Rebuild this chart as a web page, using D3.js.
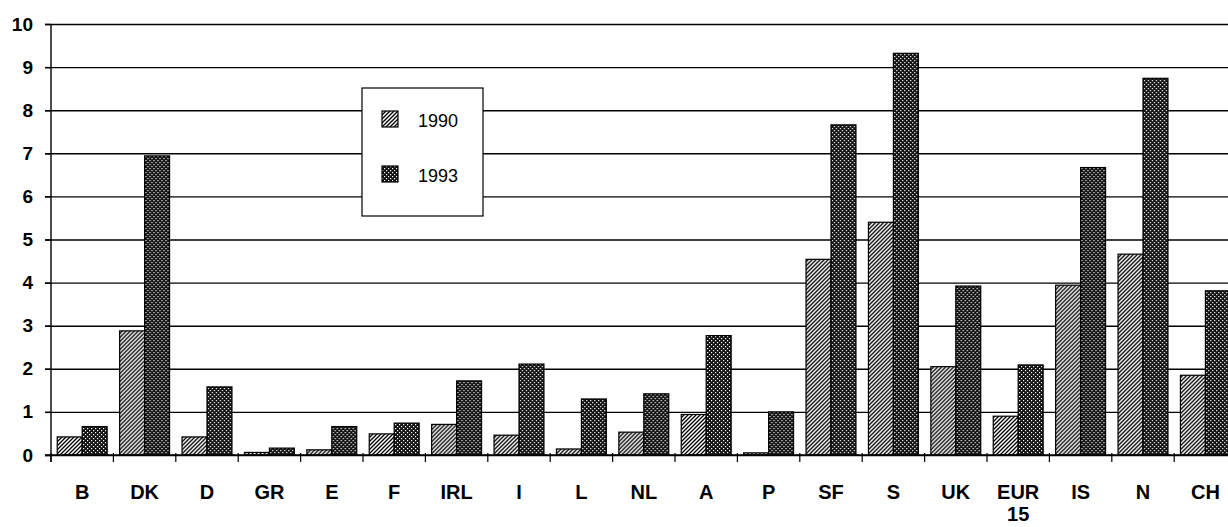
<!DOCTYPE html>
<html>
<script src="https://d3js.org/d3.v7.min.js"></script>
<style>
  body { margin: 0; background: #fff; }
  svg { display: block; }
</style>
<body>
<svg width=1228 height=527></svg>
<script>
    // values
    const countries = ["B", "DK", "D", "GR", "E", "F", "IRL", "I", "L", "NL", "A", "P",
                       "SF", "S", "UK", "EUR 15", "IS", "N", "CH"];
    const years = ["1990", "1993"];
    const v1990 = [0.42, 2.88, 0.42, 0.06, 0.12, 0.49, 0.71, 0.46, 0.14, 0.53, 0.94, 0.05,
                   4.54, 5.40, 2.05, 0.90, 3.94, 4.66, 1.85];
    const v1993 = [0.66, 6.94, 1.58, 0.16, 0.66, 0.74, 1.72, 2.11, 1.30, 1.42, 2.77, 1.00,
                   7.66, 9.32, 3.92, 2.09, 6.67, 8.74, 3.81];
    const yTicks = [0, 1, 2, 3, 4, 5, 6, 7, 8, 9, 10];

    const svg = d3.select("svg"),
        W = 1228;

    const data = countries.map((c, i) => ({ c: c, vals: [v1990[i], v1993[i]] }));

    const x = d3.scaleBand()
            .domain(countries)
            .range([51, 51 + 19 * 62.4])
            .padding(0);

    const xs = d3.scaleBand()
            .domain(years)
            .range([0, x.bandwidth()])
            .paddingInner(0)
            .paddingOuter(0.25);

    const y = d3.scaleLinear()
            .domain([0, 10])
            .range([455, 24]);

    // fill patterns: hatched for 1990, dark dotted for 1993
    const defs = svg.append("defs");
    const hatch = defs.append("pattern")
            .attr("id", "hatch")
            .attr("patternUnits", "userSpaceOnUse")
            .attr("width", 4).attr("height", 4);
    hatch.append("rect").attr("width", 4).attr("height", 4).attr("fill", "#fff");
    hatch.append("path")
            .attr("d", "M-1,1 l2,-2 M0,4 l4,-4 M3,5 l2,-2")
            .attr("stroke", "#000").attr("stroke-width", 1.3);

    const dots = defs.append("pattern")
            .attr("id", "dots")
            .attr("patternUnits", "userSpaceOnUse")
            .attr("width", 4).attr("height", 4);
    dots.append("rect").attr("width", 4).attr("height", 4).attr("fill", "#111");
    dots.append("rect").attr("x", 0).attr("y", 0).attr("width", 1.2).attr("height", 1.2).attr("fill", "#fff");
    dots.append("rect").attr("x", 2).attr("y", 2).attr("width", 1.2).attr("height", 1.2).attr("fill", "#fff");

    const fills = ["url(#hatch)", "url(#dots)"];

    // gridlines
    const grid = svg.append("g")
            .attr("transform", "translate(51,0)")
            .call(d3.axisLeft(y).tickValues(yTicks).tickSize(-(W - 51)).tickFormat(""));
    grid.select(".domain").remove();
    grid.selectAll(".tick line")
            .attr("x1", -6)
            .attr("stroke", "#000")
            .attr("stroke-width", 1.4);

    // bars
    const groups = svg.append("g")
            .selectAll("g")
            .data(data)
            .enter().append("g")
            .attr("transform", d => "translate(" + x(d.c) + ",0)");

    groups.selectAll("rect")
            .data(d => d.vals.map((v, i) => ({ year: years[i], v: v, i: i })))
            .enter().append("rect")
            .attr("x", d => xs(d.year))
            .attr("width", xs.bandwidth())
            .attr("y", d => y(d.v))
            .attr("height", d => y(0) - y(d.v))
            .attr("fill", d => fills[d.i])
            .attr("stroke", "#000")
            .attr("stroke-width", 1.2);

    // y axis
    const yAxis = svg.append("g")
            .attr("transform", "translate(51,0)")
            .call(d3.axisLeft(y).tickValues(yTicks).tickSize(6).tickPadding(12));
    yAxis.attr("font-family", "'Liberation Sans', Arial, sans-serif")
            .attr("font-size", 19)
            .attr("font-weight", "bold");
    yAxis.select(".domain")
            .attr("d", "M0,24V462")
            .attr("stroke-width", 1.4);
    yAxis.selectAll(".tick line").attr("stroke-width", 1.4);
    yAxis.selectAll(".tick text").attr("fill", "#000");

    // x axis: labels at band centres, ticks at band edges
    const xAxis = svg.append("g")
            .attr("transform", "translate(0,455)")
            .call(d3.axisBottom(x).tickSize(0).tickSizeOuter(0).tickPadding(30));
    xAxis.attr("font-family", "'Liberation Sans', Arial, sans-serif")
            .attr("font-size", 20)
            .attr("font-weight", "bold");
    xAxis.select(".domain").attr("d", "M45,0H" + W).attr("stroke-width", 1.4);
    xAxis.selectAll(".tick text")
            .attr("fill", "#000")
            .text(null)
            .each(function(d) {
                const parts = d.split(" ");
                const t = d3.select(this);
                parts.forEach((p, i) => {
                    t.append("tspan")
                        .attr("x", 0)
                        .attr("dy", i === 0 ? "0.71em" : 22)
                        .text(p);
                });
            })
            .attr("dy", null);

    xAxis.selectAll(".edge")
            .data(countries)
            .enter().append("line")
            .attr("class", "edge")
            .attr("x1", d => x(d)).attr("x2", d => x(d))
            .attr("y1", -2).attr("y2", 7)
            .attr("stroke", "#000")
            .attr("stroke-width", 1.2);

    // legend
    const legend = svg.append("g").attr("transform", "translate(362,88)");
    legend.append("rect")
            .attr("width", 121).attr("height", 128)
            .attr("fill", "#fff")
            .attr("stroke", "#000")
            .attr("stroke-width", 1.2);
    const item = legend.selectAll(".item")
            .data(years)
            .enter().append("g")
            .attr("class", "item")
            .attr("transform", (d, i) => "translate(20," + (23 + i * 55) + ")");
    item.append("rect")
            .attr("width", 16).attr("height", 16)
            .attr("fill", (d, i) => fills[i])
            .attr("stroke", "#000")
            .attr("stroke-width", 1.2);
    item.append("text")
            .attr("x", 36).attr("y", 16)
            .attr("font-family", "'Liberation Sans', Arial, sans-serif")
            .attr("font-size", 18)
            .text(d => d);
</script>
</body>
</html>
